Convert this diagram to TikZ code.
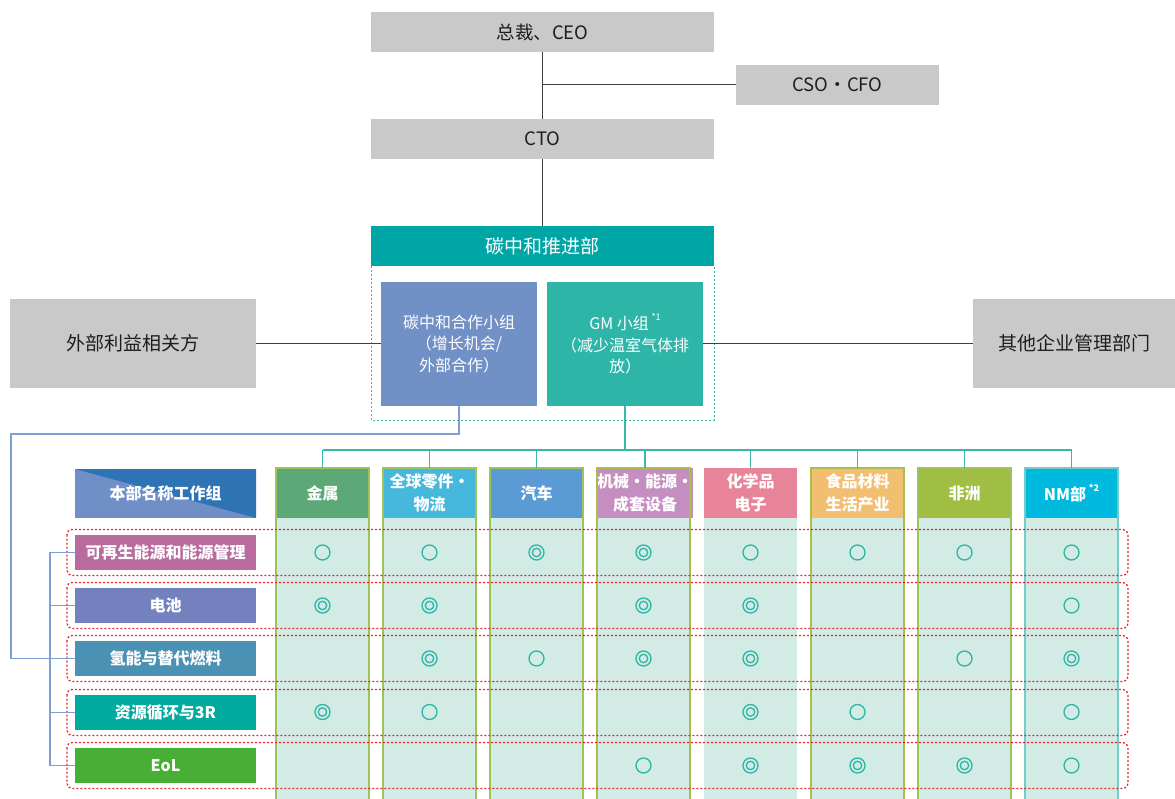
\documentclass[tikz,border=0pt]{standalone}
\usepackage{fontspec}
\setmainfont{Noto Sans CJK SC}
\definecolor{boxgray}{HTML}{C8C9C8}
\definecolor{darktxt}{HTML}{1E1E1E}
\definecolor{deptteal}{HTML}{00A6A5}
\definecolor{coopblue}{HTML}{7090C6}
\definecolor{gmteal}{HTML}{2DB5A8}
\definecolor{linkblue}{HTML}{7F9ED4}
\definecolor{linkteal}{HTML}{3BB7AA}
\definecolor{colfill}{HTML}{D3EBE5}
\definecolor{rowred}{HTML}{E3262D}
\definecolor{markteal}{HTML}{2DB5A6}
\definecolor{hdrlight}{HTML}{6F8FC6}
\definecolor{hdrdark}{HTML}{2E74B5}
\definecolor{hA}{HTML}{5DA877}
\definecolor{hB}{HTML}{46B8DC}
\definecolor{hC}{HTML}{5B9BD5}
\definecolor{hD}{HTML}{C58EC0}
\definecolor{hE}{HTML}{E8849A}
\definecolor{hF}{HTML}{F2BE70}
\definecolor{hG}{HTML}{A0BD44}
\definecolor{hH}{HTML}{00B9DF}
\definecolor{bGreen}{HTML}{9CC35C}
\definecolor{bOlive}{HTML}{A9BE4C}
\definecolor{bTeal}{HTML}{74CCC6}
\definecolor{rA}{HTML}{B96B9D}
\definecolor{rB}{HTML}{7382BF}
\definecolor{rC}{HTML}{4B91B4}
\definecolor{rD}{HTML}{00AA9D}
\definecolor{rE}{HTML}{47AF36}
\newcommand{\supmark}[1]{\raisebox{0.55em}{\fontsize{9}{9}\selectfont #1}}
\begin{document}
\begin{tikzpicture}[x=1pt,y=-1pt,
  rect/.style={inner sep=0pt, outer sep=0pt, anchor=north west, align=center},
  graybox/.style={rect, fill=boxgray, text=darktxt, font=\fontsize{18.5}{21}\selectfont},
  subbox/.style={rect, text=white, minimum width=156, minimum height=124,
    font=\fontsize{16}{21.5}\selectfont},
  colhead/.style={rect, text=white, minimum width=93, minimum height=50,
    font=\bfseries\fontsize{16}{22.5}\selectfont},
  colbody/.style={rect, fill=colfill, minimum width=93, minimum height=285},
  rowlabel/.style={rect, text=white, minimum width=181, minimum height=35,
    font=\bfseries\fontsize{16}{18}\selectfont},
  orgline/.style={draw=darktxt!85, line width=1pt},
  bluelink/.style={draw=linkblue, line width=1.3pt},
  teallink/.style={draw=linkteal, line width=1.3pt},
  rowframe/.style={draw=rowred, line width=1.3pt, dash pattern=on 2pt off 2pt, rounded corners=5pt},
  ringmark/.style={draw=markteal, line width=1.3pt}
]
\useasboundingbox (0,0) rectangle (1175,799);

% ---- executive boxes ----
\node[graybox, minimum width=343, minimum height=40] (ceo) at (371,12) {总裁、CEO};
\node[graybox, minimum width=203, minimum height=40] (cso) at (736,65) {CSO・CFO};
\node[graybox, minimum width=343, minimum height=40] (cto) at (371,119) {CTO};
\draw[orgline] (ceo.south) -- (cto.north);
\draw[orgline] (ceo.south |- cso.west) -- (cso.west);

% ---- carbon neutrality department ----
\node[rect, fill=deptteal, text=white, minimum width=343, minimum height=40,
  font=\fontsize{19}{22}\selectfont] (dept) at (371,226) {碳中和推进部};
\draw[orgline] (cto.south) -- (dept.north);
\draw[draw=linkteal, line width=1pt, dash pattern=on 2pt off 2pt]
  (dept.south west) -- (371,420) -- (714,420) -- (dept.south east);

\node[subbox, fill=coopblue] (coop) at (381,282) {碳中和合作小组\\（增长机会/\\外部合作）};
\node[subbox, fill=gmteal] (gm) at (547,282) {GM 小组\,\supmark{*1}\\（减少温室气体排\\放）};

\node[graybox, minimum width=246, minimum height=89, font=\fontsize{19}{22}\selectfont] (ext) at (10,299) {外部利益相关方};
\node[graybox, minimum width=202, minimum height=89, font=\fontsize{19}{22}\selectfont] (other) at (973,299) {其他企业管理部门};
\draw[orgline] (ext.east) -- (ext.east -| coop.west);
\draw[orgline] (gm.east |- other.west) -- (other.west);

% ---- business unit columns ----
\foreach \i/\hc/\txt in {1/hA/{金属}, 2/hB/{全球零件・\\物流}, 3/hC/{汽车},
    4/hD/{机械・能源・\\成套设备}, 5/hE/{化学品\\电子}, 6/hF/{食品材料\\生活产业},
    7/hG/{非洲}, 8/hH/{NM部\,\supmark{*2}}} {
  \node[colbody] (body\i) at ({276+107*(\i-1)},518) {};
  \node[colhead, fill=\hc] (h\i) at ({276+107*(\i-1)},468) {\txt};
}
\foreach \i/\bc in {1/bGreen, 2/bGreen, 3/bGreen, 4/bOlive, 6/bOlive, 7/bGreen, 8/bTeal} {
  \draw[draw=\bc, line width=1.3pt] (h\i.north west) rectangle (body\i.south east);
}

% bus from the GM group to every column
\coordinate (bus) at (643,450);
\draw[teallink] (gm.south) -- (gm.south |- bus);
\draw[teallink] (h1.north |- bus) -- (h8.north |- bus);
\foreach \i in {1,...,8} { \draw[teallink] (h\i.north |- bus) -- (h\i.north); }

% ---- working group rows ----
\fill[hdrlight] (75,469) rectangle (256,518);
\fill[hdrdark] (75,469) -- (256,469) -- (256,518) -- cycle;
\node[rect, text=white, minimum width=181, minimum height=49,
  font=\bfseries\fontsize{16}{18}\selectfont] (hdr) at (75,469) {本部名称工作组};

\foreach \r/\top in {1/535, 2/588, 3/641, 4/695, 5/748} {
  \draw[rowframe] (67,{\top-5.5}) rectangle (1128,{\top+40.5});
}
\node[rowlabel, fill=rA] (r1) at (75,535) {可再生能源和能源管理};
\node[rowlabel, fill=rB] (r2) at (75,588) {电池};
\node[rowlabel, fill=rC] (r3) at (75,641) {氢能与替代燃料};
\node[rowlabel, fill=rD] (r4) at (75,695) {资源循环与3R};
\node[rowlabel, fill=rE] (r5) at (75,748) {EoL};

% tree joining the working groups
\coordinate (trunk) at (50,0);
\draw[bluelink] (r1.west) -- (r1.west -| trunk) -- (r5.west -| trunk) -- (r5.west);
\foreach \r in {2,3,4} { \draw[bluelink] (r\r.west -| trunk) -- (r\r.west); }
% link from the cooperation group
\coordinate (loop) at (11,434);
\draw[bluelink] (coop.south) |- (loop) |- (r3.west);

% ---- involvement marks: 1 = single circle, 2 = double circle ----
\foreach \r/\y/\vals in {1/552.5/{1,1,2,2,1,1,1,1}, 2/605.5/{2,2,0,2,2,0,0,1},
    3/658.5/{0,2,1,2,2,0,1,2}, 4/712/{2,1,0,0,2,1,0,1}, 5/765.5/{0,0,0,1,2,2,2,1}} {
  \foreach \v [count=\c] in \vals {
    \pgfmathsetmacro{\cx}{322.5+107*(\c-1)}
    \ifnum\v>0 \draw[ringmark] (\cx,\y) circle (7.5); \fi
    \ifnum\v>1 \draw[ringmark] (\cx,\y) circle (4.2); \fi
  }
}
\end{tikzpicture}
\end{document}
